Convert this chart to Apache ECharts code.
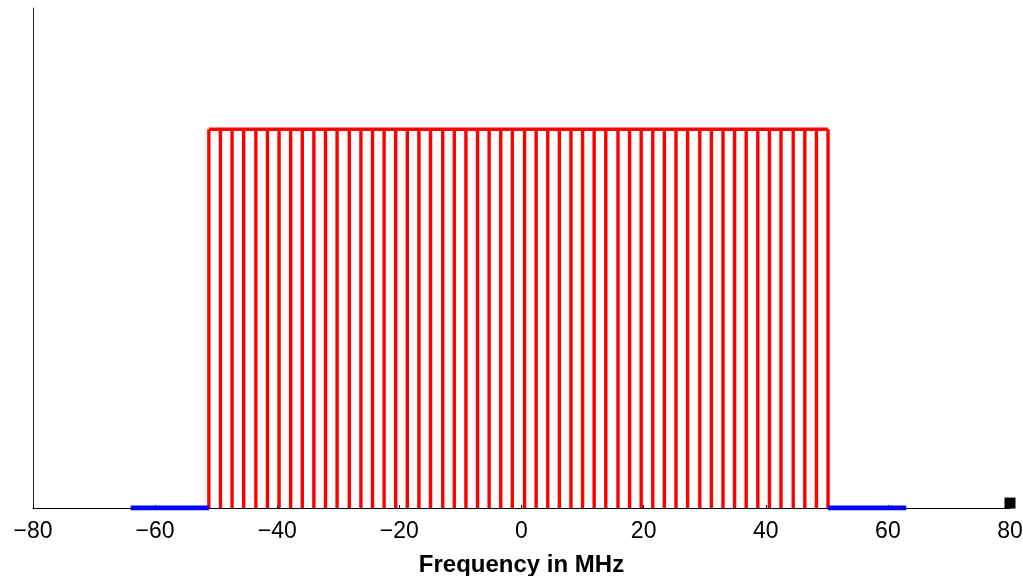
<!DOCTYPE html>
<html>
<head>
<meta charset="utf-8">
<script src="https://cdn.jsdelivr.net/npm/echarts@6/dist/echarts.min.js"></script>
<style>
  html, body { margin: 0; padding: 0; background: #fff; }
  #main { width: 1023px; height: 576px; }
</style>
</head>
<body>
<div id="main"></div>
<script>
// subcarrier frequencies (MHz)
var stemFreqs = [
  -51.2, -49.3, -47.4, -45.5, -43.5, -41.6, -39.7, -37.8, -35.9, -34.0,
  -32.1, -30.2, -28.2, -26.3, -24.4, -22.5, -20.6, -18.7, -16.8, -14.9,
  -12.9, -11.0, -9.1, -7.2, -5.3, -3.4, -1.5, 0.5, 2.4, 4.3,
  6.2, 8.1, 10.0, 11.9, 13.8, 15.8, 17.7, 19.6, 21.5, 23.4,
  25.3, 27.2, 29.2, 31.1, 33.0, 34.9, 36.8, 38.7, 40.6, 42.5,
  44.5, 46.4, 48.3, 50.2
];
var stemAmp = 1;
// blue guard segments on the baseline
var guardLeft = [[-64, 0], [-51.2, 0]];
var guardRight = [[50.2, 0], [63, 0]];
// black marker at the right end
var marker = [[80, 0.013]];
var xTicks = [-80, -60, -40, -20, 0, 20, 40, 60, 80];

var stemData = stemFreqs.map(function (f) { return [f, stemAmp]; });

var chart = echarts.init(document.getElementById('main'));
chart.setOption({
  animation: false,
  backgroundColor: '#fff',
  grid: { left: 33, right: 13, top: 8, bottom: 68, outerBoundsMode: 'none', containLabel: false },
  xAxis: {
    type: 'value',
    min: xTicks[0],
    max: xTicks[xTicks.length - 1],
    interval: 20,
    name: 'Frequency in MHz',
    nameLocation: 'middle',
    nameGap: 45,
    nameTextStyle: { fontFamily: 'Liberation Sans', fontWeight: 'bold', fontSize: 24, color: '#000' },
    axisLine: { show: true, onZero: false, lineStyle: { color: '#000', width: 1 } },
    axisTick: { show: true, inside: true, length: 3, lineStyle: { color: '#000' } },
    axisLabel: {
      margin: 12,
      fontFamily: 'Liberation Sans',
      fontSize: 23,
      color: '#000',
      formatter: function (v) { return String(v).replace('-', '\u2212'); }
    },
    splitLine: { show: false }
  },
  yAxis: {
    type: 'value',
    min: 0,
    max: 1.32,
    axisLine: { show: true, onZero: false, lineStyle: { color: '#222', width: 1 } },
    axisTick: { show: false },
    axisLabel: { show: false },
    splitLine: { show: false }
  },
  series: [
    {
      type: 'bar',
      data: stemData,
      barWidth: 3.4,
      itemStyle: { color: '#ff0000' },
      z: 3
    },
    {
      type: 'line',
      data: stemData,
      symbol: 'none',
      lineStyle: { color: '#ff0000', width: 3.4 },
      z: 4
    },
    {
      type: 'line',
      data: guardLeft,
      symbol: 'none',
      lineStyle: { color: '#0000ff', width: 5 },
      z: 5
    },
    {
      type: 'line',
      data: guardRight,
      symbol: 'none',
      lineStyle: { color: '#0000ff', width: 5 },
      z: 5
    },
    {
      type: 'scatter',
      data: marker,
      symbol: 'rect',
      symbolSize: 11,
      itemStyle: { color: '#000', opacity: 1 },
      z: 6
    }
  ]
});
</script>
</body>
</html>
